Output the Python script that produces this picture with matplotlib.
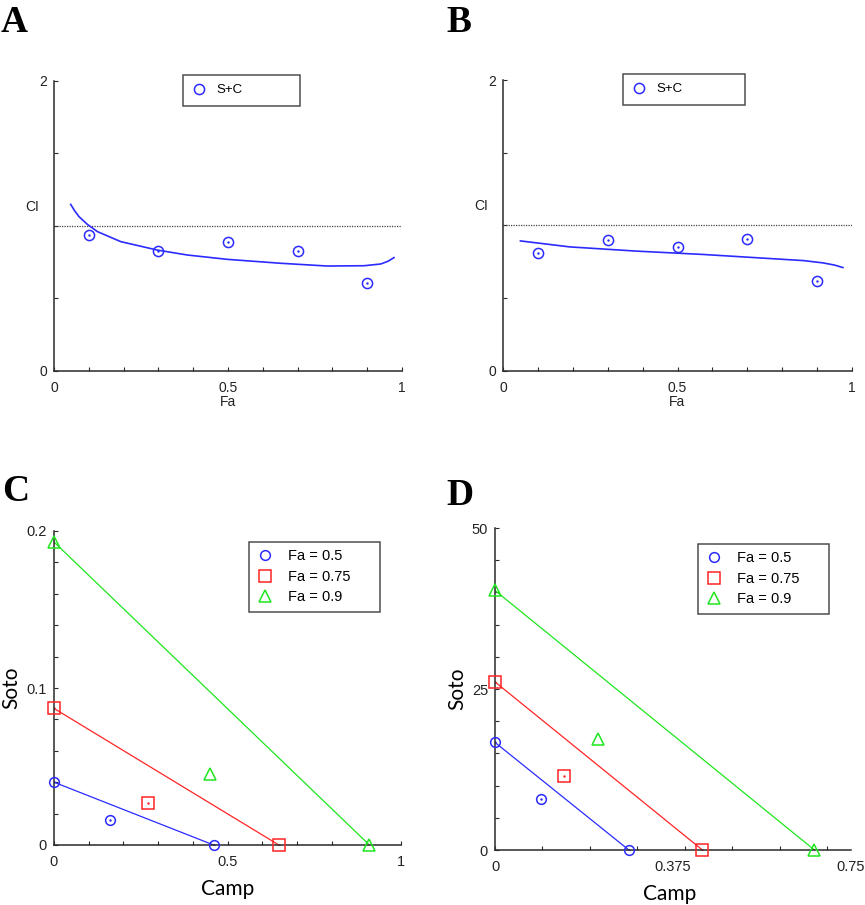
import numpy as np
import matplotlib
matplotlib.use('Agg')
from matplotlib import pyplot as plt

plt.rcParams['font.family'] = ['Liberation Sans', 'DejaVu Sans']

# ---- data ----
fa_pts = [0.1, 0.3, 0.5, 0.7, 0.9]
ci_a = [0.94, 0.83, 0.89, 0.83, 0.61]
ci_b = [0.81, 0.90, 0.85, 0.91, 0.62]

fit_a_x = [0.048, 0.059, 0.072, 0.096, 0.125, 0.192, 0.297, 0.383, 0.498, 0.651, 0.785, 0.891, 0.939, 0.960, 0.977]
fit_a_y = [1.149, 1.106, 1.064, 1.011, 0.961, 0.892, 0.834, 0.800, 0.770, 0.743, 0.724, 0.726, 0.738, 0.757, 0.782]
fit_b_x = [0.050, 0.191, 0.382, 0.573, 0.764, 0.860, 0.917, 0.950, 0.974]
fit_b_y = [0.894, 0.853, 0.824, 0.801, 0.773, 0.759, 0.743, 0.728, 0.711]

fa_labels = ['Fa = 0.5', 'Fa = 0.75', 'Fa = 0.9']

c_camp = [[0.0, 0.161, 0.460], [0.0, 0.272, 0.648], [0.0, 0.450, 0.909]]
c_soto = [[0.040, 0.016, 0.0], [0.087, 0.027, 0.0], [0.193, 0.045, 0.0]]

d_camp = [[0.0, 0.096, 0.282], [0.0, 0.146, 0.437], [0.0, 0.216, 0.673]]
d_soto = [[16.7, 7.9, 0.0], [26.1, 11.5, 0.0], [40.3, 17.3, 0.0]]

ab_xticks = [0, 0.1, 0.2, 0.3, 0.4, 0.5, 0.6, 0.7, 0.8, 0.9, 1.0]
ab_xlabels = ['0', '', '', '', '', '0.5', '', '', '', '', '1']
ab_yticks = [0, 0.5, 1.0, 1.5, 2.0]
ab_ylabels = ['0', '', '', '', '2']

c_yticks = [0, 0.02, 0.04, 0.06, 0.08, 0.1, 0.12, 0.14, 0.16, 0.18, 0.2]
c_ylabels = ['0', '', '', '', '', '0.1', '', '', '', '', '0.2']

d_xticks = [0, 0.1, 0.2, 0.3, 0.4, 0.5, 0.6, 0.7]
d_xlabels = ['0', '', '', '', '', '', '', '']
d_xlab_pos = [0.375, 0.75]
d_xlab = ['0.375', '0.75']
d_yticks = [0, 5, 10, 15, 20, 25, 30, 35, 40, 45, 50]
d_ylabels = ['0', '', '', '', '', '25', '', '', '', '', '50']

BLUE = '#2b2bff'
RED = '#ff2424'
GREEN = '#1ee61e'
cols = [BLUE, RED, GREEN]
marks = ['o', 's', '^']
msz = [7, 8.5, 9]

W, H = 865, 905
fig = plt.figure(figsize=(W / 100, H / 100), dpi=100)


def box(x0, y0, x1, y1):
    # pixel box (top-left origin) -> figure fraction
    return [x0 / W, 1 - y1 / H, (x1 - x0) / W, (y1 - y0) / H]


def base_style(ax, lsize=10):
    ax.spines['top'].set_visible(False)
    ax.spines['right'].set_visible(False)
    for s in ['left', 'bottom']:
        ax.spines[s].set_color('#2a2a2a')
        ax.spines[s].set_linewidth(1.1)
    ax.tick_params(which='both', direction='in', length=3, width=0.8, colors='#2a2a2a',
                   labelsize=lsize, labelcolor='#222222')
    ax.tick_params(axis='x', which='both', pad=7)
    ax.tick_params(axis='y', pad=5)


def panel_ci(ax, ci, fx, fy, leg_box):
    ax.axhline(1.0, color='#444444', lw=0.9, ls=(0, (1, 1)))
    ax.plot(fx, fy, color=BLUE, lw=1.2)
    ax.plot(fa_pts, ci, ls='none', marker='o', ms=7.3, mfc='none', mec=BLUE, mew=1.1,
            label='S+C', clip_on=False)
    ax.plot(fa_pts, ci, ls='none', marker='.', ms=1.5, color=BLUE)
    ax.set_xlim(0, 1)
    ax.set_ylim(0, 2)
    ax.set_xticks(ab_xticks, ab_xlabels)
    ax.set_yticks(ab_yticks, ab_ylabels)
    base_style(ax, 10)
    ax.set_xlabel('Fa', fontsize=10, color='#222222')
    ax.xaxis.set_label_coords(0.5, -0.083)
    ax.set_ylabel('CI', fontsize=10, rotation=0, color='#222222', va='center', ha='center')
    ax.yaxis.set_label_coords(-0.063, 0.566)
    b = box(*leg_box)
    leg = ax.legend(loc='upper left', bbox_to_anchor=(b[0], b[1] + b[3], b[2], 0.0),
                    bbox_transform=fig.transFigure, mode='expand', fontsize=9.5,
                    frameon=True, fancybox=False, borderpad=0.7, handletextpad=0.7,
                    handlelength=1.1, borderaxespad=0)
    leg.get_frame().set_edgecolor('#222222')
    leg.get_frame().set_linewidth(1.1)


def panel_lines(ax, camp, soto, leg_box):
    for i in range(3):
        ax.plot([camp[i][0], camp[i][-1]], [soto[i][0], soto[i][-1]], color=cols[i], lw=0.9)
        ax.plot(camp[i], soto[i], ls='none', marker=marks[i], ms=msz[i], mfc='none',
                mec=cols[i], mew=1.1, label=fa_labels[i], clip_on=False, zorder=3)
        if i < 2:
            ax.plot(camp[i], soto[i], ls='none', marker='.', ms=1.5, color=cols[i])
    base_style(ax, 10.5)
    b = box(*leg_box)
    leg = ax.legend(loc='upper left', bbox_to_anchor=(b[0], b[1] + b[3], b[2], 0.0),
                    bbox_transform=fig.transFigure, mode='expand', fontsize=10.5,
                    frameon=True, fancybox=False, borderpad=0.5, labelspacing=0.45,
                    handletextpad=1.0, handlelength=1.2, borderaxespad=0)
    leg.get_frame().set_edgecolor('#222222')
    leg.get_frame().set_linewidth(1.1)


# ---- A ----
axA = fig.add_axes(box(54, 81, 402, 371))
panel_ci(axA, ci_a, fit_a_x, fit_a_y, (183, 75, 300, 103))

# ---- B ----
axB = fig.add_axes(box(503, 80, 852, 371))
panel_ci(axB, ci_b, fit_b_x, fit_b_y, (623, 74, 745, 103))

# ---- C ----
axC = fig.add_axes(box(54, 531, 401, 845))
panel_lines(axC, c_camp, c_soto, (249, 542, 380, 614))
axC.set_xlim(0, 1)
axC.set_ylim(0, 0.2)
axC.set_xticks(ab_xticks, ab_xlabels)
axC.set_yticks(c_yticks, c_ylabels)
axC.set_xlabel('Camp', fontsize=15, family='Lato')
axC.xaxis.set_label_coords(0.5, -0.108)
axC.set_ylabel('Soto', fontsize=15, family='Lato')
axC.yaxis.set_label_coords(-0.094, 0.5)

# ---- D ----
axD = fig.add_axes(box(495, 528, 851, 850))
panel_lines(axD, d_camp, d_soto, (698, 544, 829, 617))
axD.set_xlim(0, 0.75)
axD.set_ylim(0, 50)
axD.set_xticks(d_xticks, d_xlabels)
axD.set_xticks(d_xlab_pos, d_xlab, minor=True)
axD.tick_params(axis='x', which='minor', length=0)
axD.set_yticks(d_yticks, d_ylabels)
axD.set_xlabel('Camp', fontsize=15, family='Lato')
axD.xaxis.set_label_coords(0.49, -0.106)
axD.set_ylabel('Soto', fontsize=15, family='Lato')
axD.yaxis.set_label_coords(-0.079, 0.5)

# ---- panel letters ----
for lab, px, py in [('A', 1, 5), ('B', 446, 5), ('C', 2, 474), ('D', 446, 478)]:
    fig.text(px / W, 1 - py / H, lab, fontsize=27, fontweight='bold',
             family=['Liberation Serif', 'DejaVu Serif'], va='top', ha='left')

fig.savefig('out.png', dpi=100)
